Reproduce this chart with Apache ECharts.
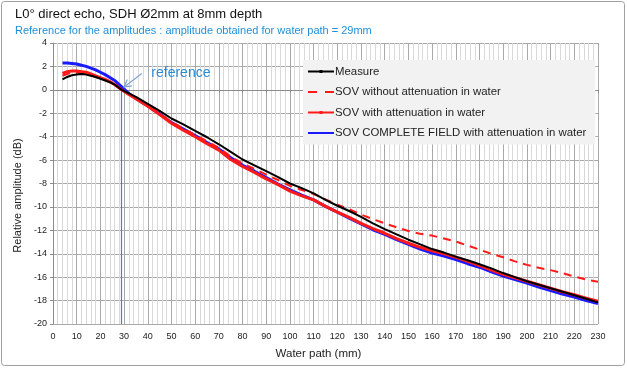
<!DOCTYPE html>
<html><head><meta charset="utf-8">
<script src="https://cdn.jsdelivr.net/npm/echarts@6/dist/echarts.min.js"></script>
<style>html,body{margin:0;padding:0;background:#fff}#c{width:627px;height:368px}</style>
</head><body><div id="c"></div>
<script>
var waterPath = [4,6,8,10,12,14,16,18,20,22,24,26,29,32,35,40,45,50,55,60,65,70,75,80,85,90,95,100,105,110,115,120,125,130,135,140,145,150,155,160,165,170,175,180,185,190,195,200,205,210,215,220,225,230];
var measure = [0.9,1.1,1.25,1.3,1.35,1.3,1.2,1.1,0.95,0.8,0.65,0.45,0,-0.3,-0.6,-1.2,-1.8,-2.45,-2.95,-3.5,-4.05,-4.65,-5.3,-5.95,-6.45,-6.95,-7.45,-8.0,-8.4,-8.85,-9.4,-9.9,-10.35,-10.85,-11.4,-11.9,-12.35,-12.8,-13.2,-13.6,-13.9,-14.25,-14.55,-14.9,-15.25,-15.65,-16.0,-16.35,-16.65,-16.95,-17.25,-17.55,-17.85,-18.15];
var sovNoAtt = [1.2,1.35,1.45,1.45,1.45,1.4,1.25,1.1,0.95,0.85,0.65,0.4,0,-0.35,-0.7,-1.35,-2.0,-2.75,-3.3,-3.85,-4.4,-4.95,-5.7,-6.3,-6.75,-7.25,-7.7,-8.2,-8.55,-8.9,-9.35,-9.8,-10.2,-10.65,-11.05,-11.4,-11.75,-12.05,-12.3,-12.45,-12.7,-12.95,-13.3,-13.65,-14.0,-14.3,-14.65,-14.95,-15.2,-15.4,-15.65,-15.95,-16.2,-16.4];
var sovAtt = [1.4,1.55,1.6,1.6,1.55,1.5,1.35,1.2,1.05,0.9,0.7,0.45,0,-0.4,-0.75,-1.4,-2.1,-2.85,-3.45,-4.0,-4.6,-5.15,-5.95,-6.55,-7.05,-7.6,-8.1,-8.65,-9.05,-9.4,-9.95,-10.45,-10.9,-11.4,-11.85,-12.25,-12.7,-13.1,-13.45,-13.75,-14.0,-14.3,-14.65,-15.0,-15.4,-15.75,-16.05,-16.35,-16.65,-16.95,-17.25,-17.5,-17.8,-18.05];
var sovComplete = [2.3,2.3,2.25,2.2,2.1,2.0,1.85,1.7,1.5,1.3,1.05,0.8,0.25,-0.3,-0.75,-1.35,-2.05,-2.8,-3.35,-3.9,-4.5,-5.05,-5.8,-6.45,-6.95,-7.5,-8.05,-8.55,-9.0,-9.4,-9.95,-10.45,-10.95,-11.45,-11.95,-12.35,-12.8,-13.2,-13.6,-13.95,-14.2,-14.5,-14.85,-15.15,-15.55,-15.9,-16.2,-16.5,-16.85,-17.15,-17.45,-17.7,-18.0,-18.25];
var seriesNames = ['Measure','SOV without attenuation in water','SOV with attenuation in water','SOV COMPLETE FIELD with attenuation in water'];
var referencePath = 29;
var titleText = 'L0° direct echo, SDH Ø2mm at 8mm depth';
var subText = 'Reference for the amplitudes : amplitude obtained for water path = 29mm';

function pairs(ys){ return waterPath.map(function(x,i){ return [x, ys[i]]; }); }

var font = '"Liberation Sans", Arial, sans-serif';
var solidIcon = 'path://M0,1h26v2h-26z M11.5,0.5h3v3h-3z';
var plainIcon = 'path://M0,1h26v2h-26z M0,0h0.01v4h-0.01z';
var dashIcon = 'path://M0,1h9v2h-9z M17,1h9v2h-9z M0,0h0.01v4h-0.01z';
var chart = echarts.init(document.getElementById('c'), null, {renderer:'canvas'});
var baseGraphic = [
  {type:'text', left:15, top:8, style:{text:titleText, fontFamily:font, fontSize:13, fill:'#111'}},
  {type:'text', left:15, top:25, style:{text:subText, fontFamily:font, fontSize:11, fill:'#1f8fd8'}},
  {type:'rect', shape:{x:1.5, y:1.5, width:623, height:364, r:3}, style:{fill:'none', stroke:'#a0a0a0', lineWidth:1}, silent:true}
];
var option = {
  animation:false,
  textStyle:{fontFamily:font},
  grid:{left:53, right:29, top:43, bottom:44, containLabel:false},
  xAxis:{type:'value', min:0, max:230, interval:10,
    name:'Water path (mm)', nameLocation:'middle', nameGap:24,
    nameTextStyle:{fontFamily:font, fontSize:11.5, color:'#222', padding:[0,14,0,0]},
    axisLine:{show:true, lineStyle:{color:'#8c8c8c'}},
    axisTick:{show:true, length:3, lineStyle:{color:'#8c8c8c'}},
    axisLabel:{fontFamily:font, fontSize:9, color:'#222', margin:8},
    splitLine:{show:true, lineStyle:{color:'#a9a9a9', width:1}},
    minorTick:{show:false, splitNumber:5},
    minorSplitLine:{show:true, lineStyle:{color:'#d9d9d9', width:1}}
  },
  yAxis:{type:'value', min:-20, max:4, interval:2,
    name:'Relative amplitude (dB)', nameLocation:'middle', nameGap:27, nameRotate:90,
    nameTextStyle:{fontFamily:font, fontSize:11, color:'#222', padding:[0,24,0,0]},
    axisLine:{show:true, lineStyle:{color:'#8c8c8c'}},
    axisTick:{show:true, length:3, lineStyle:{color:'#8c8c8c'}},
    axisLabel:{fontFamily:font, fontSize:9, color:'#222', margin:6},
    splitLine:{show:true, lineStyle:{color:'#a9a9a9', width:1}}
  },
  legend:{show:true, orient:'vertical', left:303, top:60,
    padding:[6,9,6,5], itemGap:9.5, itemWidth:26, itemHeight:4,
    backgroundColor:'#f2f2f2', borderWidth:0,
    textStyle:{fontFamily:font, fontSize:11.4, color:'#222', padding:[0,0,0,-4]},
    data:[
      {name:seriesNames[0], icon:solidIcon},
      {name:seriesNames[1], icon:dashIcon},
      {name:seriesNames[2], icon:solidIcon},
      {name:seriesNames[3], icon:plainIcon}
    ]
  },
  series:[
    {name:seriesNames[3], type:'line', data:pairs(sovComplete), showSymbol:false, symbol:'none',
     lineStyle:{color:'#1a1aff', width:3}, itemStyle:{color:'#1a1aff'}, z:2},
    {name:seriesNames[2], type:'line', data:pairs(sovAtt), showSymbol:false, symbol:'none',
     lineStyle:{color:'#ff1a1a', width:3}, itemStyle:{color:'#ff1a1a'}, z:3},
    {name:seriesNames[1], type:'line', data:pairs(sovNoAtt), showSymbol:false, symbol:'none',
     lineStyle:{color:'#ff1a1a', width:2, type:[8,6]}, itemStyle:{color:'#ff1a1a'}, z:4},
    {name:seriesNames[0], type:'line', data:pairs(measure), showSymbol:false, symbol:'none',
     lineStyle:{color:'#000', width:2}, itemStyle:{color:'#000'}, z:5,
     markLine:{silent:true, symbol:['none','none'], label:{show:false},
       lineStyle:{color:'#3d85c6', width:1.2, type:'solid'},
       data:[[{coord:[referencePath,0]},{coord:[referencePath,-20]}]]}}
  ],
  graphic:baseGraphic
};
chart.setOption(option);
var pStart = chart.convertToPixel({gridIndex:0}, [37.5, 1.4]);
var pEnd = chart.convertToPixel({gridIndex:0}, [30, 0.25]);
var txt = chart.convertToPixel({gridIndex:0}, [41.5, 1.45]);
var dx = pEnd[0]-pStart[0], dy = pEnd[1]-pStart[1], L = Math.sqrt(dx*dx+dy*dy);
var ux = dx/L, uy = dy/L, hl = 7, hw = 4;
var a1 = [pEnd[0]-ux*hl - uy*hw, pEnd[1]-uy*hl + ux*hw];
var a2 = [pEnd[0]-ux*hl + uy*hw, pEnd[1]-uy*hl - ux*hw];
chart.setOption({graphic:baseGraphic.concat([
  {type:'line', shape:{x1:pStart[0], y1:pStart[1], x2:pEnd[0], y2:pEnd[1]}, style:{stroke:'#7fa3d3', lineWidth:1.2}, z:10},
  {type:'polyline', shape:{points:[a1, pEnd, a2]}, style:{stroke:'#7fa3d3', lineWidth:1.2, fill:null}, z:10},
  {type:'text', x:txt[0], y:txt[1], style:{text:'reference', fontFamily:font, fontSize:14, fill:'#2a8bd6', textVerticalAlign:'middle'}, z:10}
])}, {replaceMerge:['graphic']});
</script></body></html>
